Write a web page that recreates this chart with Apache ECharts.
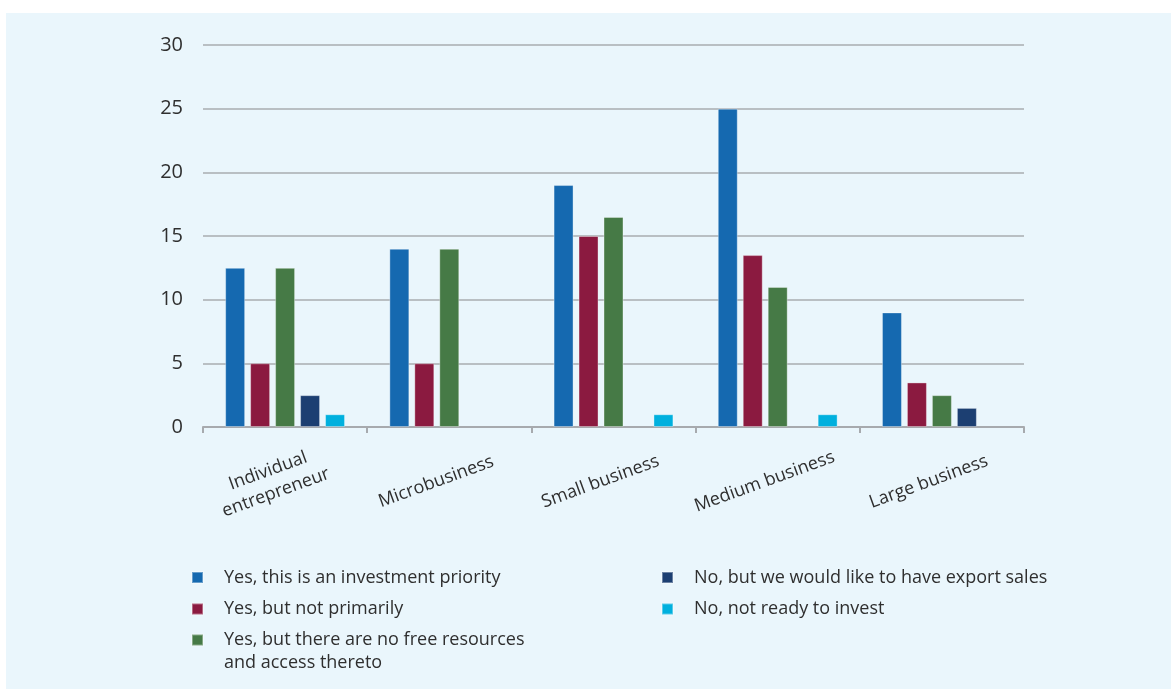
<!DOCTYPE html>
<html>
<head>
<meta charset="utf-8">
<title>Export investment plans by business size</title>
<script src="https://cdn.jsdelivr.net/npm/echarts@6/dist/echarts.min.js"></script>
<style>
  html, body { margin: 0; padding: 0; background: #ffffff; }
  #panel {
    position: absolute; left: 6px; top: 13px;
    width: 1165px; height: 676px;
    background: #eaf6fc;
  }
</style>
</head>
<body>
<div id="panel"></div>
<script>
// Business size groups along the x axis
const categories = [
  'Individual\nentrepreneur',
  'Microbusiness',
  'Small business',
  'Medium business',
  'Large business'
];

// Share of respondents (%) per answer
const seriesNames = [
  'Yes, this is an investment priority',
  'Yes, but not primarily',
  'Yes, but there are no free resources\nand access thereto',
  'No, but we would like to have export sales',
  'No, not ready to invest'
];
const investmentPriority = [12.5, 14, 19, 25, 9];
const notPrimarily      = [5, 5, 15, 13.5, 3.5];
const noFreeResources   = [12.5, 14, 16.5, 11, 2.5];
const wouldLikeExport   = [2.5, 0, 0, 0, 1.5];
const notReady          = [1, 0, 1, 1, 0];

const yTicks = [0, 5, 10, 15, 20, 25, 30];

const colors = ['#1569b0', '#8b1a40', '#467a46', '#1c3f72', '#00b0de'];
const values = [investmentPriority, notPrimarily, noFreeResources, wouldLikeExport, notReady];

const FONT = 'Open Sans';
const TEXT = '#2f2f2f';

const chart = echarts.init(document.getElementById('panel'), null, { renderer: 'canvas' });

// One legend per entry so each can sit in its own column/row.
// Multi-line entries get a blank leading line so the swatch lines up with the first line.
function legendAt(idx, left, centerY, twoLines) {
  const lh = 23;
  return {
    data: [seriesNames[idx]],
    left: left,
    top: centerY - (twoLines ? lh * 1.5 : lh / 2),
    padding: 0,
    itemWidth: 11,
    itemHeight: 11,
    icon: 'rect',
    selectedMode: false,
    formatter: twoLines ? (n => '\n' + n) : (n => n),
    textStyle: {
      fontFamily: FONT, fontSize: 18, color: TEXT, lineHeight: lh,
      padding: [0, 0, 0, 16]
    }
  };
}

chart.setOption({
  animation: false,
  color: colors,
  grid: { left: 197, right: 147, top: 32, bottom: 262, containLabel: false },
  xAxis: {
    type: 'category',
    data: categories,
    axisLine: { lineStyle: { color: '#a7aaae', width: 2 } },
    axisTick: { show: true, length: 6, lineStyle: { color: '#a7aaae', width: 2 } },
    axisLabel: {
      rotate: 20,
      align: 'center',
      verticalAlign: 'middle',
      margin: 50,
      padding: [0, 28, 0, 0],
      fontFamily: FONT,
      fontSize: 18,
      lineHeight: 23,
      color: TEXT,
      interval: 0
    }
  },
  yAxis: {
    type: 'value',
    min: yTicks[0],
    max: yTicks[yTicks.length - 1],
    interval: yTicks[1] - yTicks[0],
    axisLine: { show: false },
    axisTick: { show: false },
    axisLabel: { fontFamily: FONT, fontSize: 20, color: TEXT, margin: 20 },
    splitLine: { lineStyle: { color: '#a9acb0', width: 1.5 } }
  },
  legend: [
    legendAt(0, 185, 564.5, false),
    legendAt(1, 185, 596, false),
    legendAt(2, 185, 627, true),
    legendAt(3, 655, 564.5, false),
    legendAt(4, 655, 596, false)
  ],
  series: seriesNames.map((name, i) => ({
    name: name,
    type: 'bar',
    data: values[i].map(v => (v === 0 ? '-' : v)),
    barGap: '25%',
    barCategoryGap: '27%',
    itemStyle: {
      color: colors[i],
      borderColor: 'rgba(255,255,255,0.35)',
      borderWidth: 1
    }
  }))
});
</script>
</body>
</html>
